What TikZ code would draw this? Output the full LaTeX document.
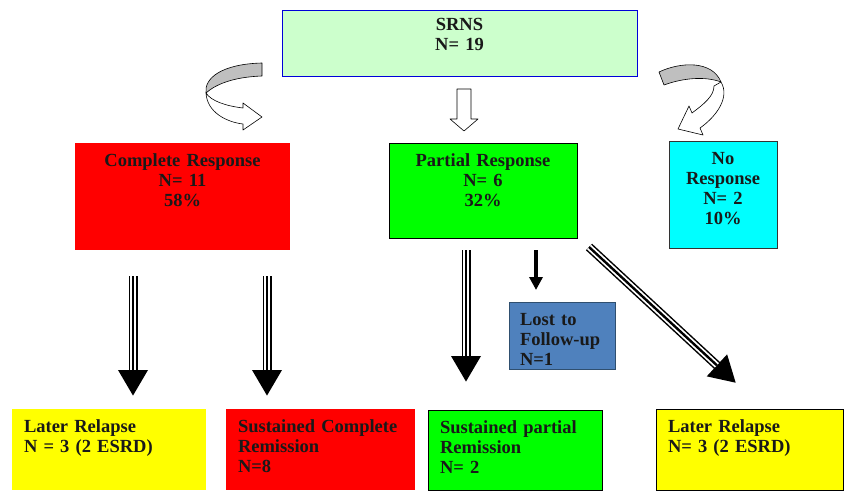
\documentclass[tikz,border=0pt]{standalone}
\usepackage{fontspec}
\setmainfont{Liberation Serif}
\usetikzlibrary{arrows.meta}
\definecolor{srnsgreen}{HTML}{CCFFCC}
\definecolor{lostblue}{HTML}{4F81BD}
\definecolor{lostedge}{HTML}{2F4F6F}
\definecolor{boxred}{HTML}{FF0000}
\definecolor{boxgreen}{HTML}{00FF00}
\definecolor{boxcyan}{HTML}{00FFFF}
\definecolor{boxyellow}{HTML}{FFFF00}

\begin{document}
\begin{tikzpicture}
 [x=1pt,y=-1pt,
  box node/.style={anchor=north west, outer sep=0pt, inner xsep=12pt, inner ysep=0pt, line width=0.8pt, text=black!90, text height=23pt, font=\bfseries\fontsize{18.5}{20}\selectfont},
  mid node/.style={box node, align=center},
  left node/.style={box node, align=left},
  tri arrow/.style={line width=9pt, -{Triangle[length=26pt,width=28pt]},
    postaction={draw, white, line width=6pt, -, shorten >=26pt},
    postaction={draw, black, line width=2.4pt, -, shorten >=26pt}},
  thin arrow/.style={line width=4pt, -{Triangle[length=13pt,width=13pt]}},
  block arrow/.style={draw=black, fill=white, line width=0.6pt, line join=round}]

 \useasboundingbox (0,0) rectangle (845,492);

 \node[mid node, draw=blue!85!black, fill=srnsgreen, text width=331pt, text height=21pt, text depth=45pt] (srns) at (282,10) {SRNS\\N= 19};

 \node[mid node, fill=boxred, text width=191pt, text depth=84pt] (cr) at (75,143) {Complete Response\\N= 11\\58\%};
 \node[mid node, draw=black, fill=boxgreen, text width=164pt, text depth=72pt] (pr) at (389,143) {Partial Response\\N= 6\\32\%};
 \node[mid node, draw=black!80, fill=boxcyan, text width=84pt, text depth=84pt] (nr) at (669,141) {No\\Response\\N= 2\\10\%};

 \node[left node, draw=lostedge, fill=lostblue, inner xsep=11pt, text width=84pt, text depth=44pt] (lost) at (509,302) {Lost to\\Follow-up\\N=1};

 \node[left node, fill=boxyellow, text width=170pt, text depth=58pt] (lr1) at (12,409) {Later Relapse\\N = 3 (2 ESRD)};
 \node[left node, fill=boxred, text width=165pt, text depth=58pt] (scr) at (226,409) {Sustained Complete\\Remission\\N=8};
 \node[left node, draw=black, fill=boxgreen, text width=150pt, text depth=57pt] (spr) at (428,410) {Sustained partial\\Remission\\N= 2};
 \node[left node, draw=black, fill=boxyellow, text width=163pt, text depth=58pt] (lr2) at (656,409) {Later Relapse\\N= 3 (2 ESRD)};

 % curved and hollow arrows under the top box
 \draw[block arrow, fill=black!25] (262,63) .. controls (222,64) and (204,78) .. (206,93) .. controls (216,84) and (234,77) .. (262,76) -- cycle;
 \draw[block arrow] (206,93) .. controls (207,112) and (226,122) .. (243,124) -- (243,130) -- (262,117) -- (243,103) -- (243,108) .. controls (226,106) and (211,101) .. (206,93) -- cycle;

 \draw[block arrow] (457,89) -- (471,89) -- (471,119) -- (478,119) -- (464,131) -- (450,119) -- (457,119) -- cycle;

 \draw[block arrow, fill=black!25] (659,72) .. controls (680,62) and (712,60) .. (721,82) .. controls (705,76) and (683,78) .. (664,85) -- cycle;
 \draw[block arrow] (721,82) .. controls (730,97) and (717,116) .. (700,128) -- (703,135) -- (678,129) -- (689,106) -- (692,113) .. controls (704,104) and (714,96) .. (714,86) -- cycle;

 % arrows to the outcome boxes
 \draw[tri arrow] ([xshift=-49.5pt,yshift=-26pt]cr.south) -- ([xshift=24pt,yshift=13pt]lr1.north);
 \draw[tri arrow] ([xshift=84.5pt,yshift=-26pt]cr.south) -- ([xshift=-53.5pt,yshift=13pt]scr.north);
 \draw[tri arrow] ([xshift=-17pt,yshift=-12pt]pr.south) -- ([xshift=-49pt,yshift=28pt]spr.north);
 \draw[thin arrow] ([xshift=53pt,yshift=-12pt]pr.south) -- ([xshift=-26pt,yshift=12pt]lost.north);
 \draw[tri arrow] ([xshift=12pt,yshift=-9pt]pr.south east) -- ([xshift=-13.5pt,yshift=26pt]lr2.north);

\end{tikzpicture}
\end{document}
